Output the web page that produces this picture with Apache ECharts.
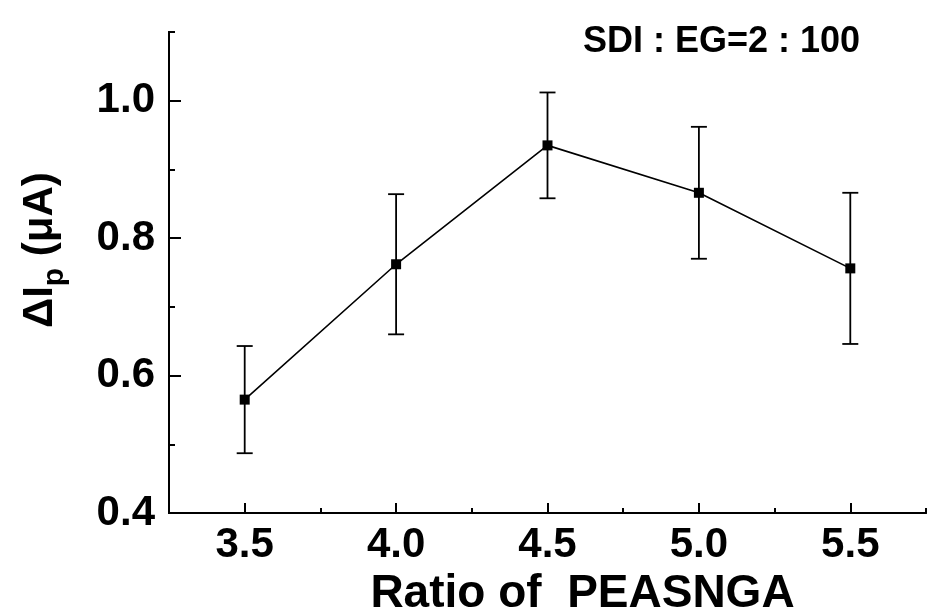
<!DOCTYPE html>
<html>
<head>
<meta charset="utf-8">
<script src="https://cdn.jsdelivr.net/npm/echarts@6/dist/echarts.min.js"></script>
<style>
  html, body { margin: 0; padding: 0; background: #fff; }
  #chart { width: 940px; height: 614px; }
</style>
</head>
<body>
<div id="chart"></div>
<script>
var ratios = [3.5, 4.0, 4.5, 5.0, 5.5];
var means = [0.565, 0.762, 0.935, 0.866, 0.756];
var errs = [0.078, 0.102, 0.077, 0.096, 0.110];
var xMajor = [3.5, 4.0, 4.5, 5.0, 5.5];
var xMinor = [3.75, 4.25, 4.75, 5.25, 5.75];
var yMajor = [0.4, 0.6, 0.8, 1.0];
var yMinor = [0.5, 0.7, 0.9, 1.1];

var font = 'Liberation Sans, Arial, sans-serif';
var myChart = echarts.init(document.getElementById('chart'));

var points = ratios.map(function (r, i) { return [r, means[i]]; });
var bars = ratios.map(function (r, i) { return [r, means[i] - errs[i], means[i] + errs[i]]; });

// measure text widths for the y title pieces
var ctx = document.createElement('canvas').getContext('2d');
function tw(s, size) {
    ctx.font = 'bold ' + size + 'px ' + font;
    return ctx.measureText(s).width;
}

function labelCfg(ticks, margin) {
    return { show: true, customValues: ticks, margin: margin, color: '#000',
             fontSize: 42, fontWeight: 'bold', fontFamily: font,
             formatter: function (v) { return v.toFixed(1); } };
}
function xAx(ticks, len, label) {
    return {
        type: 'value', position: 'bottom', min: 3.25, max: 5.75, interval: 0.25,
        axisLine: { show: true, onZero: false, lineStyle: { color: '#000', width: 2 } },
        axisTick: { show: true, inside: true, length: len, customValues: ticks,
                    lineStyle: { color: '#000', width: 2 } },
        axisLabel: label || { show: false },
        splitLine: { show: false }
    };
}
function yAx(ticks, len, label) {
    return {
        type: 'value', position: 'left', min: 0.4, max: 1.1, interval: 0.1,
        axisLine: { show: true, onZero: false, lineStyle: { color: '#000', width: 2 } },
        axisTick: { show: true, inside: true, length: len, customValues: ticks,
                    lineStyle: { color: '#000', width: 2 } },
        axisLabel: label || { show: false },
        splitLine: { show: false }
    };
}

var xMain = xAx(xMajor, 10, labelCfg(xMajor, 11));
xMain.name = 'Ratio of  PEASNGA';
xMain.nameLocation = 'middle';
xMain.nameGap = 51;
xMain.nameTextStyle = { color: '#000', fontSize: 46, fontWeight: 'bold', fontFamily: font,
                        padding: [0, 0, 0, 70] };

// main y axis: plain interval ticks every 0.2 from min, labels through a formatter
var yMain = {
    type: 'value', position: 'left', min: 0.4, max: 1.1, interval: 0.2,
    axisLine: { show: true, onZero: false, lineStyle: { color: '#000', width: 2 } },
    axisTick: { show: true, inside: true, length: 12, lineStyle: { color: '#000', width: 2 } },
    axisLabel: { show: true, margin: 14, color: '#000', showMaxLabel: false,
                 fontSize: 42, fontWeight: 'bold', fontFamily: font,
                 formatter: function (v) { return v > 1.05 ? '' : v.toFixed(1); } },
    splitLine: { show: false }
};

// same major ticks from a right-side axis moved onto the left edge, ticks pointing right
var yMajorAx = {
    type: 'value', position: 'right', offset: -757, min: 0.4, max: 1.1, interval: 0.1,
    axisLine: { show: true, onZero: false, lineStyle: { color: '#000', width: 2 } },
    axisTick: { show: true, inside: false, length: 12, customValues: yMajor,
                lineStyle: { color: '#000', width: 2 } },
    axisLabel: { show: false },
    splitLine: { show: false }
};

// y title pieces: ΔI, subscript p, (μA)
var w1 = tw('ΔI', 42), w2 = tw('p', 30);

option = {
    backgroundColor: '#fff',
    animation: false,
    title: {
        text: 'SDI : EG=2 : 100',
        left: 583, top: 24, padding: 0,
        textStyle: { color: '#000', fontSize: 36, fontWeight: 'bold', fontFamily: font }
    },
    graphic: [{
        type: 'group',
        x: 55, y: 328,
        rotation: Math.PI / 2,
        children: [
            { type: 'text', x: 0, y: -14.6,
              style: { text: 'ΔI', fill: '#000', fontSize: 42, fontWeight: 'bold', fontFamily: font, verticalAlign: 'middle' } },
            { type: 'text', x: w1, y: -0.4,
              style: { text: 'p', fill: '#000', fontSize: 30, fontWeight: 'bold', fontFamily: font, verticalAlign: 'middle' } },
            { type: 'text', x: w1 + w2, y: -14.6,
              style: { text: ' (μA)', fill: '#000', fontSize: 42, fontWeight: 'bold', fontFamily: font, verticalAlign: 'middle' } }
        ]
    }],
    grid: { left: 169, right: 14, top: 32, bottom: 101, containLabel: false, outerBoundsMode: 'none' },
    xAxis: [xMain, xAx(xMinor, 5)],
    yAxis: [yMain, yMajorAx, yAx(yMinor, 6)],
    series: [
        {
            type: 'custom',
            name: 'err',
            z: 1,
            data: bars,
            encode: { x: 0, y: [1, 2] },
            renderItem: function (params, api) {
                var lo = api.coord([api.value(0), api.value(1)]);
                var hi = api.coord([api.value(0), api.value(2)]);
                var hw = 8;
                var st = { stroke: '#000', lineWidth: 1.8 };
                return {
                    type: 'group',
                    children: [
                        { type: 'line', shape: { x1: lo[0], y1: lo[1], x2: hi[0], y2: hi[1] }, style: st },
                        { type: 'line', shape: { x1: lo[0] - hw, y1: lo[1], x2: lo[0] + hw, y2: lo[1] }, style: st },
                        { type: 'line', shape: { x1: hi[0] - hw, y1: hi[1], x2: hi[0] + hw, y2: hi[1] }, style: st }
                    ]
                };
            }
        },
        {
            type: 'line',
            name: 'ΔIp',
            z: 3,
            data: points,
            symbol: 'rect',
            symbolSize: 10,
            itemStyle: { color: '#000' },
            lineStyle: { color: '#000', width: 1.6 }
        }
    ]
};

myChart.setOption(option);
</script>
</body>
</html>
